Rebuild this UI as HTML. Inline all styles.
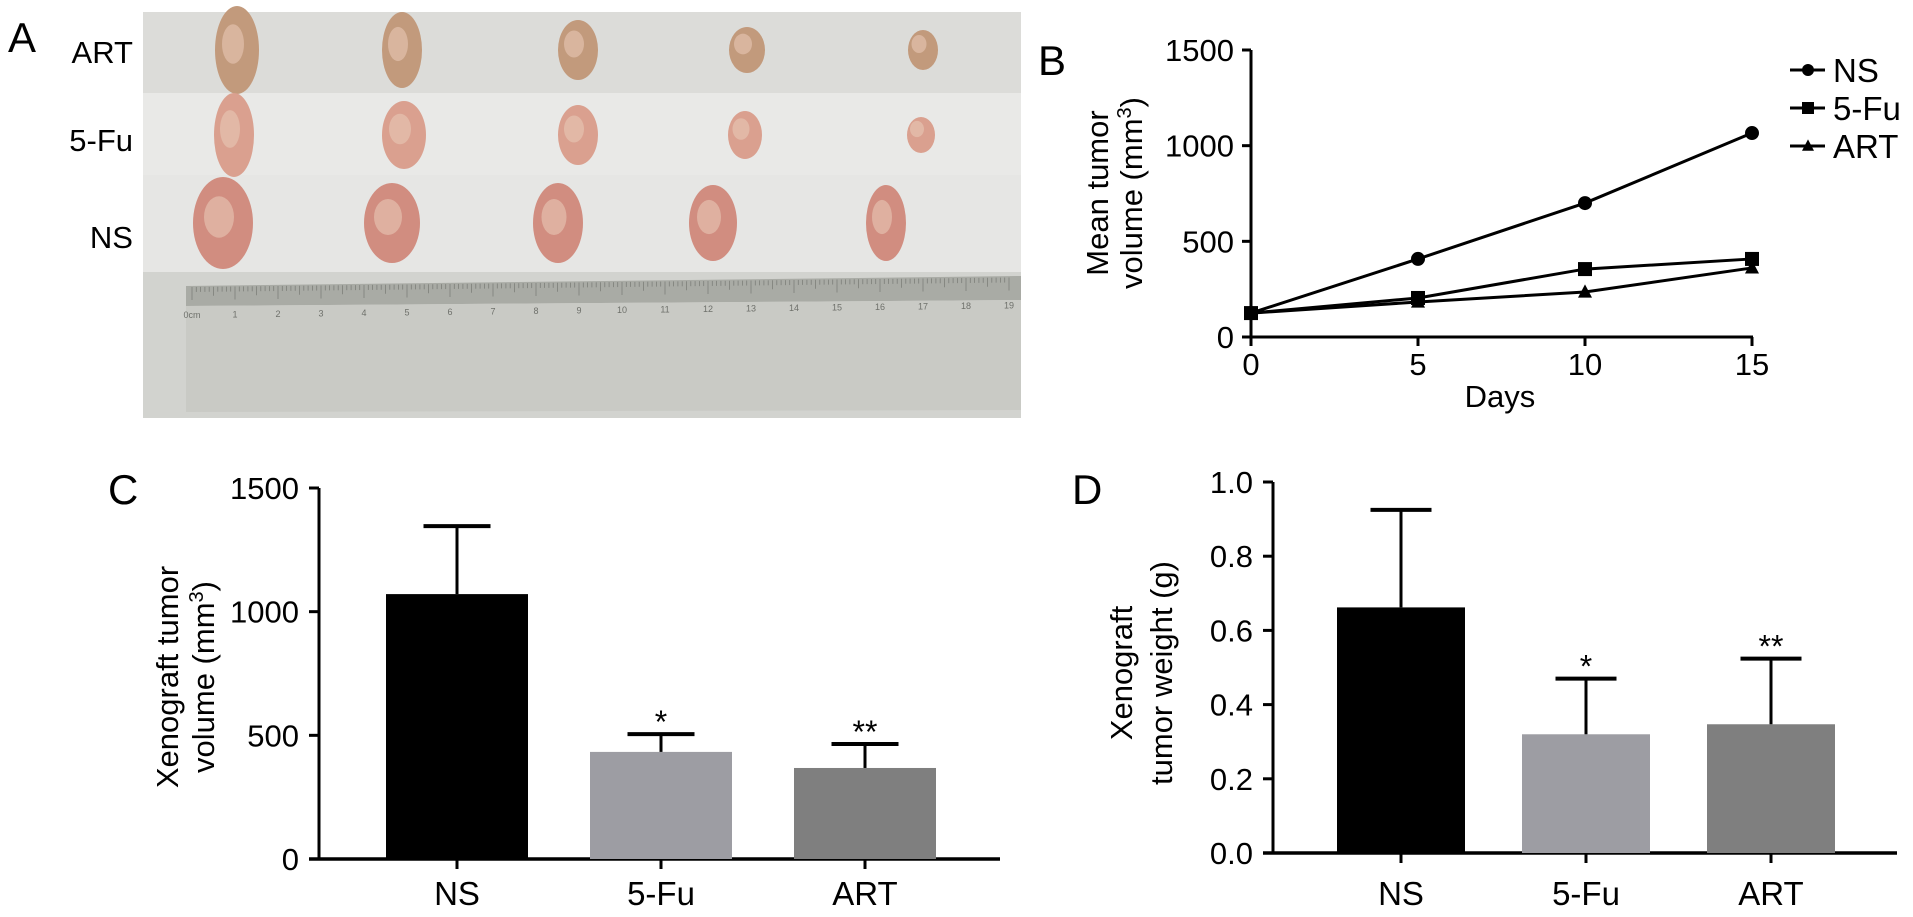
<!DOCTYPE html>
<html><head><meta charset="utf-8"><style>
html,body{margin:0;padding:0;background:#fff;}
svg{display:block;font-family:"Liberation Sans",Arial,sans-serif;}
</style></head><body>
<svg id="fig" width="1913" height="917" viewBox="0 0 1913 917" xmlns="http://www.w3.org/2000/svg">
<g>
  <rect x="143" y="12" width="878" height="406" fill="#e4e4e1"/>
  <rect x="143" y="12" width="878" height="81" fill="#dcdcd9"/>
  <rect x="143" y="93" width="878" height="82" fill="#e9e9e7"/>
  <rect x="143" y="175" width="878" height="100" fill="#e6e6e4"/>
  <rect x="143" y="272" width="878" height="146" fill="#d2d3cf"/>
  <polygon points="186,286 1021,276 1021,300 186,306" fill="#a9aba5"/>
  <polygon points="186,306 1021,300 1021,410 186,412" fill="#c9cac5"/>
  <g id="ruler-ticks"></g>
  <g id="tumors"></g>
</g>
<text x="8" y="52" font-size="42">A</text>
<text x="133" y="63" font-size="31" text-anchor="end">ART</text>
<text x="133" y="151" font-size="31" text-anchor="end">5-Fu</text>
<text x="133" y="248" font-size="31" text-anchor="end">NS</text>

<text x="1038" y="75" font-size="42">B</text>
<g id="chartB"></g>
<text transform="translate(1108,193) rotate(-90)" font-size="31" text-anchor="middle">Mean tumor</text>
<text transform="translate(1142,193) rotate(-90)" font-size="31" text-anchor="middle">volume (mm<tspan baseline-shift="super" font-size="20">3</tspan>)</text>
<text x="1500" y="407" font-size="31" text-anchor="middle">Days</text>

<text x="108" y="504" font-size="42">C</text>
<g id="chartC"></g>
<text transform="translate(178,677) rotate(-90)" font-size="31" text-anchor="middle">Xenograft tumor</text>
<text transform="translate(214,677) rotate(-90)" font-size="31" text-anchor="middle">volume (mm<tspan baseline-shift="super" font-size="20">3</tspan>)</text>

<text x="1072" y="504" font-size="42">D</text>
<g id="chartD"></g>
<text transform="translate(1132,673) rotate(-90)" font-size="31" text-anchor="middle">Xenograft</text>
<text transform="translate(1172,673) rotate(-90)" font-size="31" text-anchor="middle">tumor weight (g)</text>
</svg>
<script>
const bDays = [0, 5, 10, 15];
const bNS = [125, 408, 700, 1066];
const bFu = [125, 204, 355, 408];
const bART = [125, 183, 235, 361];
const bYTicks = [0, 500, 1000, 1500];
const bXTicks = [0, 5, 10, 15];
const bSeriesNames = ["NS", "5-Fu", "ART"];
const cCats = ["NS", "5-Fu", "ART"];
const cMeans = [1071, 433, 368];
const cErr = [275, 72, 97];
const cStars = ["", "*", "**"];
const cYTicks = [0, 500, 1000, 1500];
const dCats = ["NS", "5-Fu", "ART"];
const dMeans = [0.662, 0.32, 0.347];
const dErr = [0.263, 0.15, 0.177];
const dStars = ["", "*", "**"];
const dYTicks = ["0.0", "0.2", "0.4", "0.6", "0.8", "1.0"];

const NS = "http://www.w3.org/2000/svg";
function mk(parent, tag, attrs) {
  const e = document.createElementNS(NS, tag);
  for (const k in attrs) e.setAttribute(k, attrs[k]);
  parent.appendChild(e);
  return e;
}

(function(){
  const rt = document.getElementById('ruler-ticks');
  for (let i = 0; i <= 190; i++) {
    const x = 192 + i * 4.3;
    const t = mk(rt, 'line', {x1:x, y1:287 - i*0.05, x2:x, y2:(i%10===0?300:(i%5===0?296:292)) - i*0.05, stroke:'#7d7f7a', 'stroke-width':0.8});
    
    
    if (i % 10 === 0) {
      const n = mk(rt, 'text', {x:x, y:318 - i*0.05, 'font-size':9, fill:'#6e706b', 'text-anchor':'middle'});
      n.textContent = i === 0 ? '0cm' : String(i/10);
      
      
    }
  }
  const tg = document.getElementById('tumors');
  const rows = [
    {y:50, xs:[237,402,578,747,923], rx:[22,20,20,18,15], ry:[44,38,30,23,20], c:'#c29a7c'},
    {y:135, xs:[234,404,578,745,921], rx:[20,22,20,17,14], ry:[42,34,30,24,18], c:'#daa08f'},
    {y:223, xs:[223,392,558,713,886], rx:[30,28,25,24,20], ry:[46,40,40,38,38], c:'#d18d80'}
  ];
  rows.forEach(r => r.xs.forEach((x,i) => {
    const e = mk(tg, 'ellipse', {cx:x, cy:r.y, rx:r.rx[i], ry:r.ry[i], fill:r.c});
    
    
    const h = mk(tg, 'ellipse', {cx:x-4, cy:r.y-6, rx:r.rx[i]*0.5, ry:r.ry[i]*0.45, fill:'#e8c8b6', opacity:0.6});
    
    
  }));
})();

(function(){
  const g = document.getElementById('chartB');
  const x0 = 1251, x1 = 1752, y0 = 337, y1 = 50;
  const sx = d => x0 + (d - 0) / 15 * (x1 - x0);
  const sy = v => y0 - v / 1500 * (y0 - y1);
  let e = mk(g, 'line', {x1:x0, y1:sy(1500), x2:x0, y2:y0+1, stroke:'#000', 'stroke-width':3});
   
  e = mk(g, 'line', {x1:x0-9, y1:y0, x2:x1+1, y2:y0, stroke:'#000', 'stroke-width':3});
   
  bYTicks.forEach(v => {
    let t = mk(g, 'line', {x1:x0-9, y1:sy(v), x2:x0, y2:sy(v), stroke:'#000', 'stroke-width':3});
     
    let l = mk(g, 'text', {x:x0-17, y:sy(v)+11, 'font-size':31, 'text-anchor':'end'});
    l.textContent = v;
     
  });
  bXTicks.forEach(d => {
    let t = mk(g, 'line', {x1:sx(d), y1:y0, x2:sx(d), y2:y0+9, stroke:'#000', 'stroke-width':3});
     
    let l = mk(g, 'text', {x:sx(d), y:y0+38, 'font-size':31, 'text-anchor':'middle'});
    l.textContent = d;
     
  });
  const series = [bNS, bFu, bART];
  const marker = (parent, kind, x, y, s) => {
    let m;
    if (kind === 0) m = mk(parent, 'circle', {cx:x, cy:y, r:s});
    else if (kind === 1) m = mk(parent, 'rect', {x:x-s, y:y-s, width:2*s, height:2*s});
    else m = mk(parent, 'polygon', {points:`${x},${y-s*1.1} ${x-s},${y+s*0.8} ${x+s},${y+s*0.8}`});
    m.setAttribute('fill', '#000');
    
    
    return m;
  };
  series.forEach((vals, k) => {
    const pts = vals.map((v, i) => sx(bDays[i]) + ',' + sy(v)).join(' ');
    const p = mk(g, 'polyline', {points:pts, fill:'none', stroke:'#000', 'stroke-width':3});
    
    
    vals.forEach((v, i) => marker(g, k, sx(bDays[i]), sy(v), 7));
  });
  bSeriesNames.forEach((n, k) => {
    const ly = 70 + k * 38;
    const l = mk(g, 'line', {x1:1790, y1:ly, x2:1825, y2:ly, stroke:'#000', 'stroke-width':3});
     
    marker(g, k, 1808, ly, 6);
    const t = mk(g, 'text', {x:1833, y:ly+12, 'font-size':33});
    t.textContent = n;
     
  });
})();

function barChart(id, cats, means, errs, stars, ticks, cfg) {
  const g = document.getElementById(id);
  const sy = v => cfg.y0 - v / cfg.max * (cfg.y0 - cfg.y1);
  let e = mk(g, 'line', {x1:cfg.ax, y1:sy(cfg.max), x2:cfg.ax, y2:cfg.y0+1, stroke:'#000', 'stroke-width':3});
   
  e = mk(g, 'line', {x1:cfg.ax-10, y1:cfg.y0, x2:cfg.xend, y2:cfg.y0, stroke:'#000', 'stroke-width':3.5});
   
  ticks.forEach(tv => {
    const v = parseFloat(tv);
    let t = mk(g, 'line', {x1:cfg.ax-10, y1:sy(v), x2:cfg.ax, y2:sy(v), stroke:'#000', 'stroke-width':3});
     
    let l = mk(g, 'text', {x:cfg.ax-20, y:sy(v)+11, 'font-size':31, 'text-anchor':'end'});
    l.textContent = tv;
     
  });
  const colors = ['#000000', '#9d9da3', '#7f7f7f'];
  cats.forEach((c, i) => {
    const cx = cfg.c0 + i * cfg.step;
    const top = sy(means[i]), etop = sy(means[i] + errs[i]);
    const b = mk(g, 'rect', {x:cx - cfg.bw/2, y:top, width:cfg.bw, height:cfg.y0 - top, fill:colors[i]});
     
    const ev = mk(g, 'line', {x1:cx, y1:top, x2:cx, y2:etop, stroke:'#000', 'stroke-width':3});
     
    const ec = mk(g, 'line', {x1:cx - cfg.cap/2, y1:etop, x2:cx + cfg.cap/2, y2:etop, stroke:'#000', 'stroke-width':4});
     
    const tk = mk(g, 'line', {x1:cx, y1:cfg.y0, x2:cx, y2:cfg.y0+10, stroke:'#000', 'stroke-width':3});
     
    const lb = mk(g, 'text', {x:cx, y:905, 'font-size':33, 'text-anchor':'middle'});
    lb.textContent = c;
     
    if (stars[i]) {
      const s = mk(g, 'text', {x:cx, y:etop - 1, 'font-size':32, 'text-anchor':'middle'});
      s.textContent = stars[i];
       
    }
  });
}
barChart('chartC', cCats, cMeans, cErr, cStars, cYTicks.map(String),
  {p:'c', ax:319, y0:859, y1:488, max:1500, xend:1000, c0:457, step:204, bw:142, cap:67});
barChart('chartD', dCats, dMeans, dErr, dStars, dYTicks,
  {p:'d', ax:1273, y0:853, y1:482, max:1.0, xend:1897, c0:1401, step:185, bw:128, cap:61});
</script>
</body></html>
